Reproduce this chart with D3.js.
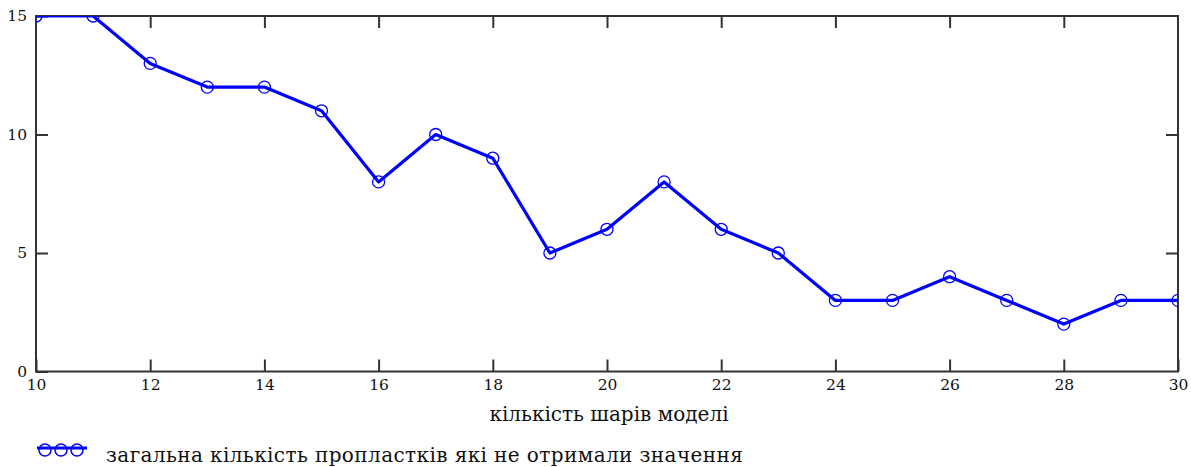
<!DOCTYPE html>
<html>
<head>
<meta charset="utf-8">
<script src="https://cdn.jsdelivr.net/npm/d3@7"></script>
<style>
  html, body { margin: 0; padding: 0; background: #fff; }
  svg { display: block; }
  svg text { font-family: "DejaVu Serif", serif; fill: #111; }
</style>
</head>
<body>
<svg id="chart" width="1191" height="467"></svg>
<script>
// Number of model layers and the count of interlayers left without a value
const layers = [10, 11, 12, 13, 14, 15, 16, 17, 18, 19, 20, 21, 22, 23, 24, 25, 26, 27, 28, 29, 30];
const unassigned = [15, 15, 13, 12, 12, 11, 8, 10, 9, 5, 6, 8, 6, 5, 3, 3, 4, 3, 2, 3, 3];
const xTicks = [10, 12, 14, 16, 18, 20, 22, 24, 26, 28, 30];
const yTicks = [0, 5, 10, 15];
const xTitle = "кількість шарів моделі";
const legendLabel = "загальна кількість пропластків які не отримали значення";

const svg = d3.select("#chart");
const plotLeft = 36, plotRight = 1178, plotTop = 16, plotBottom = 371.5;
const blue = "#0000ff";
const axisColor = "#333";
const serif = '"DejaVu Serif", serif';

const x = d3.scaleLinear().domain([10, 30]).range([plotLeft, plotRight]);
const y = d3.scaleLinear().domain([0, 15]).range([plotBottom, plotTop]);

// Inward tick marks on all four sides
const tickLen = 12;
const g = svg.append("g");
g.append("g").attr("transform", `translate(0,${plotBottom})`)
  .call(d3.axisBottom(x).tickValues(xTicks).tickSize(-tickLen).tickPadding(7).tickFormat(d3.format("d")));
g.append("g").attr("transform", `translate(0,${plotTop})`)
  .call(d3.axisTop(x).tickValues(xTicks.slice(1, -1)).tickSize(-tickLen).tickFormat(""));
g.append("g").attr("transform", `translate(${plotLeft},0)`)
  .call(d3.axisLeft(y).tickValues(yTicks).tickSize(-tickLen).tickPadding(9).tickFormat(d3.format("d")));
g.append("g").attr("transform", `translate(${plotRight},0)`)
  .call(d3.axisRight(y).tickValues(yTicks.slice(1, -1)).tickSize(-tickLen).tickFormat(""));

g.selectAll("g").attr("font-family", serif);
g.selectAll(".domain").remove();
g.selectAll(".tick line").attr("stroke", axisColor).attr("stroke-width", 2);
g.selectAll(".tick text").attr("font-size", 15.5).attr("fill", "#111");

// Plot frame
svg.append("rect")
  .attr("x", plotLeft).attr("y", plotTop)
  .attr("width", plotRight - plotLeft).attr("height", plotBottom - plotTop)
  .attr("fill", "none").attr("stroke", axisColor).attr("stroke-width", 2);

const pts = layers.map((l, i) => [l, unassigned[i]]);

// Clip the series to the plot area
svg.append("clipPath").attr("id", "plotclip")
  .append("rect").attr("x", plotLeft).attr("y", plotTop)
  .attr("width", plotRight - plotLeft).attr("height", plotBottom - plotTop);

const series = svg.append("g").attr("clip-path", "url(#plotclip)");
series.append("path")
  .datum(pts)
  .attr("fill", "none")
  .attr("stroke", blue)
  .attr("stroke-width", 3.2)
  .attr("stroke-linejoin", "round")
  .attr("d", d3.line().x(d => x(d[0])).y(d => y(d[1])));

series.selectAll("circle")
  .data(pts)
  .join("circle")
  .attr("cx", d => x(d[0]))
  .attr("cy", d => y(d[1]))
  .attr("r", 6)
  .attr("fill", "none")
  .attr("stroke", blue)
  .attr("stroke-width", 1.3);

// Axis title
svg.append("text")
  .attr("x", (plotLeft + plotRight) / 2 + 2)
  .attr("y", 421)
  .attr("text-anchor", "middle")
  .attr("font-size", 20)
  .text(xTitle);

// Legend: line with three markers, then its label
const lg = svg.append("g");
const ly = 450;
lg.append("line")
  .attr("x1", 37).attr("x2", 87).attr("y1", ly - 2).attr("y2", ly - 2)
  .attr("stroke", blue).attr("stroke-width", 3);
lg.selectAll("circle")
  .data([45, 61, 77])
  .join("circle")
  .attr("cx", d => d).attr("cy", ly)
  .attr("r", 6)
  .attr("fill", "none").attr("stroke", blue).attr("stroke-width", 1.5);
lg.append("text")
  .attr("x", 106)
  .attr("y", 462)
  .attr("font-size", 20)
  .attr("letter-spacing", 0.4)
  .text(legendLabel);
</script>
</body>
</html>
